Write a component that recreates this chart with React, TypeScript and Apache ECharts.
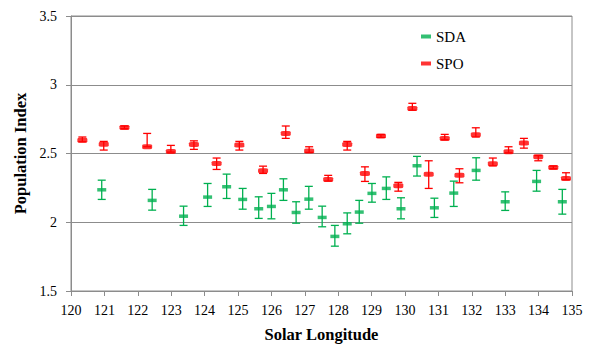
import React, { useEffect, useRef } from "react";
import * as echarts from "echarts";

// SDA (green): solar longitude, population index, lower and upper error limits
const sdaX = [120.92, 122.43, 123.37, 124.09, 124.66, 125.14, 125.62, 126.0, 126.36, 126.74, 127.12, 127.52, 127.9, 128.27, 128.63, 129.01, 129.44, 129.88, 130.36, 130.88, 131.46, 132.13, 133.0, 133.94, 134.71];
const sdaY = [2.236, 2.159, 2.044, 2.183, 2.258, 2.166, 2.098, 2.115, 2.236, 2.071, 2.168, 2.035, 1.897, 1.989, 2.074, 2.21, 2.246, 2.098, 2.411, 2.105, 2.212, 2.377, 2.149, 2.297, 2.149];
const sdaLow = [2.166, 2.088, 1.977, 2.115, 2.173, 2.095, 2.028, 2.025, 2.159, 1.993, 2.095, 1.967, 1.826, 1.916, 1.993, 2.146, 2.166, 2.025, 2.336, 2.035, 2.115, 2.306, 2.086, 2.226, 2.059];
const sdaHigh = [2.306, 2.239, 2.117, 2.282, 2.35, 2.246, 2.185, 2.21, 2.316, 2.149, 2.261, 2.117, 1.977, 2.068, 2.159, 2.282, 2.33, 2.178, 2.479, 2.175, 2.299, 2.469, 2.221, 2.377, 2.239];

// SPO (red)
const spoX = [120.34, 120.98, 121.6, 122.28, 122.99, 123.68, 124.36, 125.04, 125.75, 126.43, 127.13, 127.7, 128.27, 128.8, 129.28, 129.8, 130.22, 130.71, 131.19, 131.63, 132.12, 132.63, 133.1, 133.56, 133.99, 134.44, 134.82];
const spoY = [2.597, 2.568, 2.69, 2.549, 2.515, 2.566, 2.428, 2.561, 2.374, 2.646, 2.518, 2.311, 2.566, 2.355, 2.627, 2.265, 2.828, 2.35, 2.61, 2.341, 2.636, 2.425, 2.513, 2.576, 2.476, 2.399, 2.319];
const spoLow = [2.585, 2.525, 2.68, 2.549, 2.51, 2.53, 2.384, 2.525, 2.355, 2.61, 2.508, 2.3, 2.525, 2.297, 2.617, 2.226, 2.815, 2.246, 2.6, 2.287, 2.62, 2.41, 2.505, 2.539, 2.447, 2.389, 2.31];
const spoHigh = [2.62, 2.588, 2.7, 2.646, 2.559, 2.592, 2.467, 2.588, 2.408, 2.7, 2.549, 2.341, 2.588, 2.403, 2.637, 2.29, 2.865, 2.447, 2.639, 2.389, 2.687, 2.467, 2.549, 2.61, 2.485, 2.409, 2.36];

const GREEN = "#00B050";
const RED = "#FF0000";
const AXIS_GRAY = "#8C8C8C";
const FONT = "Times New Roman";

const errorBarSeries = (name: string, xs: number[], lo: number[], hi: number[], color: string) => ({
  type: "custom",
  name: name + " error",
  data: xs.map((x, i) => [x, lo[i], hi[i]]),
  encode: { x: 0, y: [1, 2] },
  z: 2,
  silent: true,
  renderItem: (params: any, api: any) => {
    const x = api.value(0);
    const low = api.coord([x, api.value(1)]);
    const high = api.coord([x, api.value(2)]);
    const cap = 4;
    const style = { stroke: color, lineWidth: 1.3 };
    return {
      type: "group",
      children: [
        { type: "line", shape: { x1: low[0], y1: low[1], x2: high[0], y2: high[1] }, style },
        { type: "line", shape: { x1: high[0] - cap, y1: high[1], x2: high[0] + cap, y2: high[1] }, style },
        { type: "line", shape: { x1: low[0] - cap, y1: low[1], x2: low[0] + cap, y2: low[1] }, style },
      ],
    };
  },
});

export default function App() {
  const ref = useRef<HTMLDivElement>(null);

  useEffect(() => {
    document.body.style.margin = "0";
    if (!ref.current) return;
    const chart = echarts.init(ref.current, undefined, { renderer: "svg" });
    chart.setOption({
      animation: false,
      backgroundColor: "#ffffff",
      textStyle: { fontFamily: FONT },
      grid: {
        left: 71,
        right: 21,
        top: 16,
        bottom: 62,
        show: true,
        borderColor: AXIS_GRAY,
        borderWidth: 1,
      },
      legend: {
        orient: "vertical",
        left: 416,
        top: 24,
        itemGap: 12,
        itemWidth: 10,
        itemHeight: 4,
        icon: "rect",
        data: ["SDA", "SPO"],
        textStyle: { fontFamily: FONT, fontSize: 15, color: "#000" },
      },
      xAxis: {
        type: "value",
        min: 120,
        max: 135,
        interval: 1,
        name: "Solar Longitude",
        nameLocation: "middle",
        nameGap: 35,
        nameTextStyle: { fontFamily: FONT, fontSize: 16.5, fontWeight: "bold", color: "#000" },
        axisLine: { show: true, lineStyle: { color: AXIS_GRAY, width: 1 } },
        axisTick: { show: true, length: 5, lineStyle: { color: AXIS_GRAY } },
        axisLabel: { fontFamily: FONT, fontSize: 14, color: "#000", margin: 12 },
        splitLine: { show: false },
      },
      yAxis: {
        type: "value",
        min: 1.5,
        max: 3.5,
        interval: 0.5,
        name: "Population Index",
        nameLocation: "middle",
        nameGap: 42,
        nameTextStyle: { fontFamily: FONT, fontSize: 16.5, fontWeight: "bold", color: "#000" },
        axisLine: { show: true, lineStyle: { color: AXIS_GRAY, width: 1 } },
        axisTick: { show: true, length: 5, lineStyle: { color: AXIS_GRAY } },
        axisLabel: { fontFamily: FONT, fontSize: 14, color: "#000", margin: 14 },
        splitLine: { show: true, lineStyle: { color: AXIS_GRAY, width: 1 } },
      },
      series: [
        errorBarSeries("SDA", sdaX, sdaLow, sdaHigh, GREEN),
        errorBarSeries("SPO", spoX, spoLow, spoHigh, RED),
        {
          type: "scatter",
          name: "SDA",
          data: sdaX.map((x, i) => [x, sdaY[i]]),
          symbol: "rect",
          symbolSize: [9, 3.5],
          itemStyle: { color: GREEN },
          z: 3,
        },
        {
          type: "scatter",
          name: "SPO",
          data: spoX.map((x, i) => [x, spoY[i]]),
          symbol: "roundRect",
          symbolSize: [10, 5],
          itemStyle: { color: RED },
          z: 3,
        },
      ],
    });
    return () => chart.dispose();
  }, []);

  return <div ref={ref} style={{ width: 593, height: 353 }} />;
}
